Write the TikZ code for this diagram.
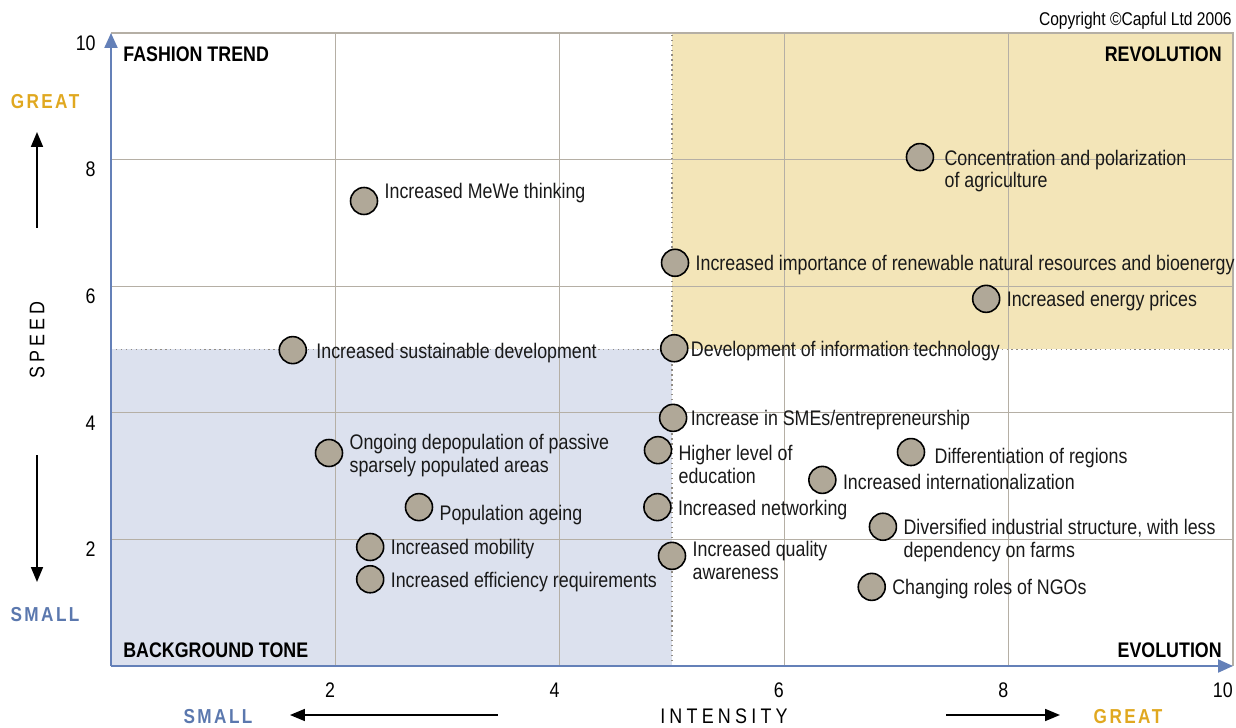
\documentclass[tikz,border=0pt]{standalone}
\usepackage{fontspec}
\setmainfont[FakeStretch=0.845]{Liberation Sans}
\newfontfamily\widefont[FakeStretch=0.85,LetterSpace=12]{Liberation Sans}
\newfontfamily\spacedfont[FakeStretch=0.85,LetterSpace=20]{Liberation Sans}
\usetikzlibrary{
  arrows.meta, % for the Triangle arrow tips
  positioning, % to place each text next to its dot
}
\definecolor{axisblue}{HTML}{6480B8}
\definecolor{smallblue}{HTML}{5B78AE}
\definecolor{greatgold}{HTML}{E0A820}
\definecolor{revfill}{HTML}{F3E5B8}
\definecolor{bgfill}{HTML}{DCE1EE}
\definecolor{gridgray}{HTML}{B5AFA5}
\definecolor{dotgray}{HTML}{B0A898}
\tikzset{
  item/.style={ % style for each trend dot
    circle,draw=black,line width=0.9pt, % drawn as a circle with a black rim
    fill=dotgray, % grey filling
    inner sep=0pt, % no text inside
    minimum size=0.54cm, % all dots the same size
  },
  itemlabel/.style={ % style for the text of a dot
    inner sep=0pt, % text starts right at the node border
    align=left, % lines flush left
    text=black!90,
    font=\fontsize{12}{13}\selectfont,
    node distance=0.12cm, % gap between dot and text
    yshift=-0.05cm, % text sits a little low
  },
  corner/.style={ % style for the quadrant names
    inner sep=0pt,
    font=\fontsize{12}{13}\selectfont\bfseries,
  },
  ticklabel/.style={ % style for the axis numbers
    inner sep=0pt,
    font=\fontsize{12}{13}\selectfont,
  },
  gridline/.style={ % thin grey grid
    draw=gridgray,line width=0.6pt,
  },
  frameline/.style={ % top and right border of the plot
    draw=gridgray,line width=1.2pt,
  },
  halfline/.style={ % dotted line at 5
    draw=gridgray!80!black,dotted,line width=0.8pt,
  },
  axis/.style={ % the two blue axes
    draw=axisblue,line width=1.2pt,
    -{Triangle[length=0.3cm,width=0.26cm]},
  },
  dirarrow/.style={ % black arrows beside the axes
    draw=black,line width=1pt,
    -{Triangle[length=0.3cm,width=0.24cm]},
  },
  great/.style={ % orange end word
    inner sep=0pt,text=greatgold,
    font=\fontsize{11.5}{12}\widefont\bfseries,
  },
  small/.style={ % blue end word
    inner sep=0pt,text=smallblue,
    font=\fontsize{11.5}{12}\widefont\bfseries,
  },
  axistitle/.style={ % SPEED and INTENSITY
    inner sep=0pt,
    font=\fontsize{12}{13}\spacedfont,
  },
}

\begin{document}
\begin{tikzpicture}[x=2.244cm,y=1.266cm]

	\useasboundingbox (-0.9893,-0.9637) rectangle (10.0267,10.5213);

	\fill[revfill] (5,5) rectangle (10,10);
	\fill[bgfill] (0,0) rectangle (5,5);

	\foreach \v in {2,4,6,8} {
		\draw[gridline] (\v,0) -- (\v,10);
		\draw[gridline] (0,\v) -- (10,\v);
	}
	\draw[halfline] (5,0) -- (5,10);
	\draw[halfline] (0,5) -- (10,5);
	\draw[frameline] (0,10) -- (10,10) -- (10,0);

	\coordinate (origin) at (0,0);
	\coordinate (xend) at (10,0);
	\coordinate (yend) at (0,10);
	\draw[axis] (origin) -- (xend);
	\draw[axis] (origin) -- (yend);

	\foreach \v in {2,4,...,10} {
		\node[ticklabel,anchor=east] (xt\v) at (\v,-0.379) {\v};
		\node[ticklabel,anchor=east] (yt\v) at ({-0.134},{\v-0.158}) {\v};
	}

	\node[corner,anchor=west] (fashion) at (0.107,9.668) {FASHION TREND};
	\node[corner,anchor=east] (revolution) at (9.902,9.668) {REVOLUTION};
	\node[corner,anchor=west] (background) at (0.107,0.253) {BACKGROUND TONE};
	\node[corner,anchor=east] (evolution) at (9.902,0.253) {EVOLUTION};

	\node[inner sep=0pt,anchor=east,font=\fontsize{10.5}{12}\selectfont] (copyright) at (9.991,10.19) {Copyright \textcopyright Capful Ltd 2006};

	\node[great] (speedgreat) at (-0.588,8.91) {GREAT};
	\coordinate (speedup0) at (-0.6595,6.92);
	\coordinate (speedup1) at (-0.6595,8.436);
	\draw[dirarrow] (speedup0) -- (speedup1);
	\node[axistitle,rotate=90] (speed) at (-0.6595,5.15) {SPEED};
	\coordinate (speeddown0) at (-0.6595,3.333);
	\coordinate (speeddown1) at (-0.6595,1.327);
	\draw[dirarrow] (speeddown0) -- (speeddown1);
	\node[small] (speedsmall) at (-0.588,0.806) {SMALL};

	\node[small] (intsmall) at (0.954,-0.806) {SMALL};
	\coordinate (intleft0) at (3.449,-0.774);
	\coordinate (intleft1) at (1.595,-0.774);
	\draw[dirarrow] (intleft0) -- (intleft1);
	\node[axistitle] (intensity) at (5.463,-0.79) {INTENSITY};
	\coordinate (intright0) at (7.442,-0.774);
	\coordinate (intright1) at (8.458,-0.774);
	\draw[dirarrow] (intright0) -- (intright1);
	\node[great] (intgreat) at (9.064,-0.806) {GREAT};

	\node[item] (mewe) at (2.255,7.346) {};
	\node[itemlabel,right=of mewe,yshift=0.2cm] (mewe-l) {Increased MeWe thinking};

	\node[item] (agri) at (7.21,8.04) {};
	\node[itemlabel,right=of agri,xshift=0.08cm,yshift=-0.23cm] (agri-l) {Concentration and polarization\\of agriculture};

	\node[item] (renew) at (5.027,6.37) {};
	\node[itemlabel,right=of renew] (renew-l) {Increased importance of renewable natural resources and bioenergy};

	\node[item] (energy) at (7.80,5.80) {};
	\node[itemlabel,right=of energy] (energy-l) {Increased energy prices};

	\node[item] (sustain) at (1.62,4.99) {};
	\node[itemlabel,right=of sustain,xshift=0.06cm] (sustain-l) {Increased sustainable development};

	\node[item] (infotech) at (5.02,5.02) {};
	\node[itemlabel,right=of infotech,xshift=-0.08cm] (infotech-l) {Development of information technology};

	\node[item] (smes) at (5.01,3.92) {};
	\node[itemlabel,right=of smes,xshift=-0.06cm] (smes-l) {Increase in SMEs/entrepreneurship};

	\node[item] (educ) at (4.875,3.41) {};
	\node[itemlabel,right=of educ,yshift=-0.23cm] (educ-l) {Higher level of\\education};

	\node[item] (depop) at (1.943,3.365) {};
	\node[itemlabel,right=of depop] (depop-l) {Ongoing depopulation of passive\\sparsely populated areas};

	\node[item] (regions) at (7.13,3.38) {};
	\node[itemlabel,right=of regions,xshift=0.06cm,yshift=-0.08cm] (regions-l) {Differentiation of regions};

	\node[item] (intl) at (6.34,2.94) {};
	\node[itemlabel,right=of intl] (intl-l) {Increased internationalization};

	\node[item] (ageing) at (2.745,2.51) {};
	\node[itemlabel,right=of ageing,yshift=-0.1cm] (ageing-l) {Population ageing};

	\node[item] (network) at (4.87,2.51) {};
	\node[itemlabel,right=of network] (network-l) {Increased networking};

	\node[item] (mobility) at (2.31,1.88) {};
	\node[itemlabel,right=of mobility] (mobility-l) {Increased mobility};

	\node[item] (quality) at (5.0,1.74) {};
	\node[itemlabel,right=of quality,yshift=-0.05cm] (quality-l) {Increased quality\\awareness};

	\node[item] (diversify) at (6.88,2.20) {};
	\node[itemlabel,right=of diversify,yshift=-0.23cm] (diversify-l) {Diversified industrial structure, with less\\dependency on farms};

	\node[item] (efficiency) at (2.31,1.37) {};
	\node[itemlabel,right=of efficiency] (efficiency-l) {Increased efficiency requirements};

	\node[item] (ngos) at (6.78,1.25) {};
	\node[itemlabel,right=of ngos] (ngos-l) {Changing roles of NGOs};

\end{tikzpicture}
\end{document}
